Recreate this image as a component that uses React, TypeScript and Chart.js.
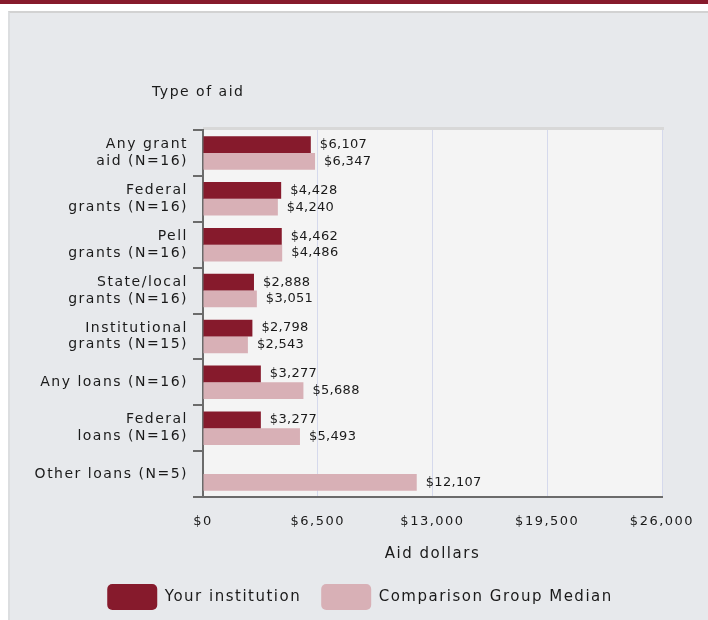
import React, { useEffect, useRef } from "react";
import { Chart, registerables } from "chart.js";

Chart.register(...registerables);

const categories: (string | string[])[] = [
  ["Any grant", "aid (N=16)"],
  ["Federal", "grants (N=16)"],
  ["Pell", "grants (N=16)"],
  ["State/local", "grants (N=16)"],
  ["Institutional", "grants (N=15)"],
  "Any loans (N=16)",
  ["Federal", "loans (N=16)"],
  "Other loans (N=5)",
];
const yourInstitution: (number | null)[] = [6107, 4428, 4462, 2888, 2798, 3277, 3277, null];
const comparisonMedian: (number | null)[] = [6347, 4240, 4486, 3051, 2543, 5688, 5493, 12107];
const xTicks = [0, 6500, 13000, 19500, 26000];
const seriesNames = ["Your institution", "Comparison Group Median"];
const yAxisTitle = "Type of aid";
const xAxisTitle = "Aid dollars";

const DARK = "#861a2c";
const LIGHT = "#d8b0b6";
const FONT = "'DejaVu Sans', Verdana, sans-serif";
const TEXT = "#1a1a1a";

const fmt = (v: number) => "$" + v.toLocaleString("en-US");

const spacingPlugin = {
  id: "spacing",
  beforeLayout(chart: any) {
    chart.ctx.letterSpacing = "1.5px";
  },
  afterLayout(chart: any) {
    // shift the legend's span so it is centred under the whole figure
    if (chart.legend) chart.legend.left = chart.legend.left + 48;
  },
  beforeDraw(chart: any) {
    const { ctx, chartArea } = chart;
    ctx.letterSpacing = "1.5px";
    ctx.save();
    ctx.fillStyle = "#f4f4f4";
    ctx.fillRect(chartArea.left, chartArea.top, chartArea.right - chartArea.left, chartArea.bottom - chartArea.top);
    ctx.fillStyle = "#d8d8d8";
    ctx.fillRect(chartArea.left, chartArea.top - 3, chartArea.right - chartArea.left + 2, 3);
    ctx.restore();
  },
  afterDraw(chart: any) {
    const { ctx, chartArea } = chart;
    ctx.save();
    ctx.letterSpacing = "1.5px";
    ctx.font = "14px " + FONT;
    ctx.fillStyle = TEXT;
    ctx.textAlign = "left";
    ctx.textBaseline = "middle";
    ctx.fillText(yAxisTitle, chartArea.left - 51, chartArea.top - 38);
    ctx.restore();
  },
};

const valueLabels = {
  id: "valueLabels",
  afterDatasetsDraw(chart: any) {
    const { ctx } = chart;
    ctx.save();
    ctx.letterSpacing = "0.3px";
    ctx.font = "13px " + FONT;
    ctx.fillStyle = TEXT;
    ctx.textAlign = "left";
    ctx.textBaseline = "middle";
    chart.data.datasets.forEach((ds: any, di: number) => {
      const meta = chart.getDatasetMeta(di);
      meta.data.forEach((el: any, i: number) => {
        const v = ds.data[i];
        if (v == null) return;
        ctx.fillText(fmt(v), el.x + 9, el.y);
      });
    });
    ctx.restore();
  },
};

export default function App() {
  const ref = useRef<HTMLCanvasElement | null>(null);

  useEffect(() => {
    if (!ref.current) return;
    Chart.defaults.font.family = FONT;
    Chart.defaults.color = TEXT;
    const chart = new Chart(ref.current, {
      type: "bar",
      data: {
        labels: categories as any,
        datasets: [
          {
            label: seriesNames[0],
            data: yourInstitution,
            backgroundColor: DARK,
            borderWidth: 0,
            categoryPercentage: 0.73,
            barPercentage: 1.0,
          },
          {
            label: seriesNames[1],
            data: comparisonMedian,
            backgroundColor: LIGHT,
            borderWidth: 0,
            categoryPercentage: 0.73,
            barPercentage: 1.0,
          },
        ],
      },
      options: {
        indexAxis: "y",
        responsive: false,
        animation: false,
        devicePixelRatio: 1,
        layout: { padding: { top: 117, right: 46, left: 0, bottom: 0 } },
        scales: {
          x: {
            type: "linear",
            min: 0,
            max: 26000,
            afterBuildTicks(scale: any) {
              scale.ticks = xTicks.map((v) => ({ value: v }));
            },
            afterFit(scale: any) {
              scale.height = 67;
            },
            ticks: {
              padding: 5,
              font: { size: 13 },
              color: TEXT,
              maxRotation: 0,
              callback: (v: any) => fmt(Number(v)),
            },
            grid: {
              color: "#d5d9ec",
              lineWidth: 1,
              drawTicks: true,
              tickLength: 12,
              tickColor: "rgba(0,0,0,0)",
            },
            border: { display: true, color: "#6b6b6b", width: 2 },
            title: {
              display: true,
              text: xAxisTitle,
              font: { size: 15 },
              color: TEXT,
              padding: { top: 0, bottom: 1 },
            },
          },
          y: {
            afterFit(scale: any) {
              scale.width = 193;
            },
            ticks: {
              padding: 5,
              font: { size: 14, lineHeight: 1.2 },
              color: TEXT,
            },
            grid: {
              offset: true,
              drawOnChartArea: false,
              drawTicks: true,
              tickLength: 10,
              color: "#6b6b6b",
              lineWidth: 2,
            },
            border: { display: true, color: "#6b6b6b", width: 2 },
          },
        },
        plugins: {
          legend: {
            position: "bottom",
            labels: {
              boxWidth: 50,
              boxHeight: 26,
              useBorderRadius: true,
              borderRadius: 5,
              padding: 20,
              font: { size: 15 },
              color: TEXT,
            },
          },
          tooltip: { enabled: false },
        },
      } as any,
      plugins: [spacingPlugin, valueLabels],
    });
    return () => chart.destroy();
  }, []);

  return (
    <div style={{ position: "absolute", left: 0, top: 0, width: 708, height: 620, background: "#ffffff", overflow: "hidden" }}>
      <div style={{ position: "absolute", left: 0, top: 0, width: 708, height: 4, background: DARK }} />
      <div
        style={{
          position: "absolute",
          left: 8,
          top: 11,
          width: 700,
          height: 609,
          background: "#e7e9ec",
          borderTop: "2px solid #d2d2d2",
          borderLeft: "2px solid #dcdee0",
          boxSizing: "border-box",
        }}
      >
        <canvas ref={ref} width={698} height={607} style={{ display: "block", width: 698, height: 607 }} />
      </div>
    </div>
  );
}
